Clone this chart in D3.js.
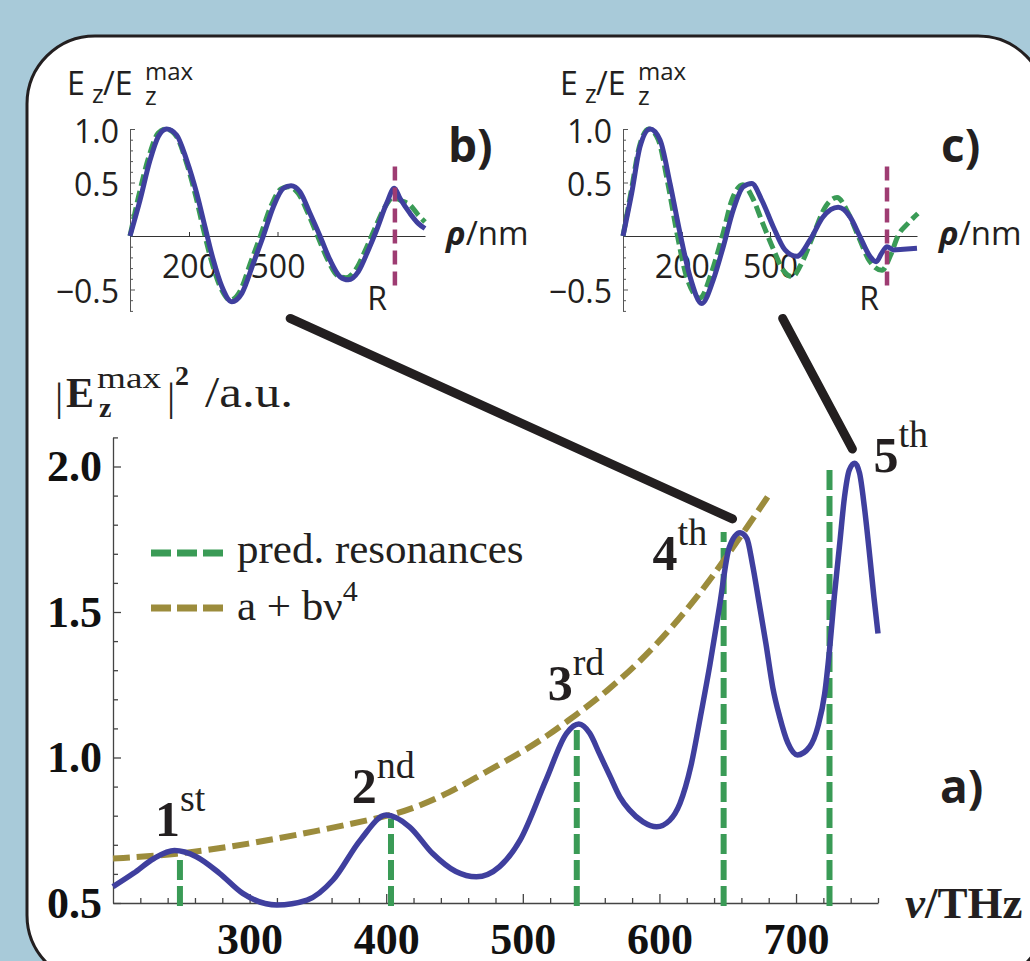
<!DOCTYPE html>
<html>
<head>
<meta charset="utf-8">
<script src="https://cdn.jsdelivr.net/npm/d3@7"></script>
<style>
body { margin: 0; background: #a8cad9; }
svg { display: block; }
</style>
</head>
<body>
<svg></svg>
<script>
// ---- panel a): |Ez max|^2 against frequency ----
var nuField = [200, 215, 230, 245, 261, 278, 295, 320, 342, 361, 381, 400, 417, 434, 451, 466, 483, 498,
  517, 532, 541, 549, 556, 564, 571, 578, 588, 598, 607.5, 615, 623, 630, 637, 644, 651, 659, 664, 668, 673,
  678, 683, 688, 694, 701, 710, 716, 721, 724.5, 728, 732, 735.5, 739, 743, 746.5, 750, 754, 757, 760];
var ampField = [0.556, 0.602, 0.653, 0.680, 0.659, 0.602, 0.533, 0.493, 0.510, 0.579, 0.716, 0.802, 0.762,
  0.670, 0.608, 0.590, 0.625, 0.716, 0.923, 1.083, 1.115, 1.083, 1.014, 0.934, 0.865, 0.820, 0.779, 0.762,
  0.784, 0.842, 0.970, 1.140, 1.320, 1.520, 1.720, 1.772, 1.753, 1.667, 1.530, 1.390, 1.240, 1.140, 1.050,
  1.009, 1.037, 1.106, 1.220, 1.369, 1.552, 1.736, 1.896, 1.988, 2.011, 1.977, 1.862, 1.690, 1.552, 1.426];

// fit a + b nu^4
var nuFit = [200, 245, 300, 350, 400, 420, 447, 469, 497, 517, 540, 561, 586, 610, 634, 649, 664, 681];
var ampFit = [0.653, 0.665, 0.703, 0.748, 0.797, 0.825, 0.880, 0.940, 1.012, 1.071, 1.150, 1.225, 1.330,
  1.450, 1.590, 1.690, 1.790, 1.908];

// predicted resonances
var nuPred = [249, 403.5, 539.5, 647, 724.5];
var predTop = [0.66, 0.79, 1.10, 1.775, 1.995];

var resNum = ["1", "2", "3", "4", "5"];
var resSup = ["st", "nd", "rd", "th", "th"];
var resLabelNu = [230.7, 374.8, 518.2, 595, 756.7];
var resLabelAmp = [0.729, 0.844, 1.198, 1.644, 1.981];

var xTicks = [300, 400, 500, 600, 700];
var yTicks = [0.5, 1.0, 1.5, 2.0];

// ---- insets b) and c): Ez/Ez max against rho ----
var rhoB = [0, 34, 68, 96, 124, 158, 192, 226, 254, 282, 311, 345, 379, 418, 452, 486, 520, 546, 576, 610,
  644, 678, 712, 740, 774, 808, 836, 870, 896, 915, 949, 977, 1000];
var ezB = [0, 0.336, 0.71, 0.93, 1.0, 0.944, 0.71, 0.40, 0.087, -0.22, -0.47, -0.614, -0.536, -0.255, 0,
  0.274, 0.446, 0.47, 0.414, 0.212, 0, -0.224, -0.38, -0.41, -0.333, -0.13, 0.056, 0.305, 0.446, 0.352,
  0.212, 0.118, 0.07];
var rhoBAna = [0, 30, 65, 95, 122, 158, 192, 224, 250, 280, 310, 340, 372, 410, 442, 478, 512, 538, 570, 604,
  636, 670, 704, 732, 766, 800, 830, 864, 893, 920, 949, 976, 1000];
var ezBAna = [0, 0.38, 0.75, 0.96, 1.0, 0.93, 0.68, 0.36, 0.05, -0.27, -0.50, -0.60, -0.52, -0.24, 0, 0.28,
  0.44, 0.46, 0.40, 0.21, 0, -0.22, -0.37, -0.39, -0.31, -0.12, 0.07, 0.27, 0.36, 0.33, 0.29, 0.20, 0.13];

var rhoC = [0, 29.5, 58, 92, 126, 160, 194, 228, 268, 307, 341, 375, 409, 438, 472, 511, 551, 591, 636, 681,
  732, 772, 806, 840, 861, 880, 898, 920, 954, 1000];
var ezC = [0, 0.40, 0.835, 1.0, 0.897, 0.49, 0.025, -0.38, -0.63, -0.41, -0.10, 0.243, 0.46, 0.49, 0.336,
  0.087, -0.13, -0.19, -0.037, 0.18, 0.268, 0.18, -0.006, -0.19, -0.24, -0.16, -0.10, -0.13, -0.124, -0.115];
var rhoCAna = [0, 28, 56, 88, 120, 152, 184, 216, 262, 300, 338, 372, 408, 440, 475, 511, 545, 575, 610, 646,
  690, 728, 765, 800, 840, 881, 910, 935, 970, 1003];
var ezCAna = [0, 0.42, 0.84, 1.0, 0.9, 0.5, 0.02, -0.38, -0.58, -0.35, 0, 0.35, 0.48, 0.36, 0.12, -0.12,
  -0.32, -0.38, -0.24, 0, 0.28, 0.36, 0.22, 0, -0.24, -0.32, -0.18, 0, 0.12, 0.21];

var rhoR = 898;
var insetYTicks = [-0.5, 0.5, 1.0];
var insetXTicks = [200, 500];

// connectors inset -> peak
var connFromRho = [543, 543];
var connFromEz = [-0.77, -0.77];
var connToNu = [653.5, 741.3];
var connToAmp = [1.82, 2.06];

var blue = "#3f3f9e", green = "#3a9b56", olive = "#9c8c3c", purple = "#9e3c72", ink = "#231f20";
var serif = "'Liberation Serif', 'Times New Roman', serif";
var sans = "'Open Sans', 'Noto Sans', sans-serif";

var width = 1030, height = 961;
var svg = d3.select("svg").attr("width", width).attr("height", height);

svg.append("rect").attr("width", width).attr("height", height).attr("fill", "#a8cad9");
svg.append("rect")
    .attr("x", 27).attr("y", 36).attr("width", 1019).attr("height", 947).attr("rx", 68)
    .attr("fill", "#fff").attr("stroke", ink).attr("stroke-width", 3);

// ---------- insets ----------
var yIn = d3.scaleLinear().domain([-0.7, 1.0]).range([310.9, 129]);
var xB = d3.scaleLinear().domain([0, 1000]).range([130, 425]);
var xC = d3.scaleLinear().domain([0, 1000]).range([623, 917]);

function drawInset(xs, rho, ez, rhoAna, ezAna, tag) {
  var g = svg.append("g");
  var ox = xs(0), oy = yIn(0);

  // minor y ticks
  var minor = d3.range(-0.7, 1.001, 0.1).filter(function(v) { return Math.abs(v * 2 - Math.round(v * 2)) > 1e-6; });
  g.append("g").attr("transform", "translate(" + ox + ",0)")
      .call(d3.axisLeft(yIn).tickValues(minor).tickSize(-3).tickSizeOuter(0).tickFormat(""))
      .call(function(a) { a.select(".domain").remove(); a.selectAll("line").attr("stroke", "#555"); });

  var ya = g.append("g").attr("transform", "translate(" + ox + ",0)")
      .call(d3.axisLeft(yIn).tickValues(insetYTicks).tickSize(-5).tickSizeOuter(0).tickPadding(11)
        .tickFormat(function(d) { return d < 0 ? "\u2212" + Math.abs(d).toFixed(1) : d.toFixed(1); }));
  ya.attr("font-family", sans).attr("font-size", 32);
  ya.selectAll("text").attr("fill", ink).attr("dy", "0.42em");
  ya.selectAll("line, path").attr("stroke", "#555");

  var xa = g.append("g").attr("transform", "translate(0," + oy + ")")
      .call(d3.axisBottom(xs).tickValues(insetXTicks).tickSize(-4).tickSizeOuter(0).tickPadding(19));
  xa.attr("font-family", sans).attr("font-size", 32);
  xa.selectAll("text").attr("fill", ink);
  xa.selectAll("line, path").attr("stroke", "#333");

  var line = d3.line().curve(d3.curveMonotoneX);
  g.append("path")
      .attr("d", line(rhoAna.map(function(r, i) { return [xs(r), yIn(ezAna[i])]; })))
      .attr("fill", "none").attr("stroke", green).attr("stroke-width", 5).attr("stroke-dasharray", "12,5");
  g.append("path")
      .attr("d", line(rho.map(function(r, i) { return [xs(r), yIn(ez[i])]; })))
      .attr("fill", "none").attr("stroke", blue).attr("stroke-width", 5);

  g.append("line")
      .attr("x1", xs(rhoR)).attr("x2", xs(rhoR)).attr("y1", yIn(0.65)).attr("y2", yIn(-0.52))
      .attr("stroke", purple).attr("stroke-width", 4.5).attr("stroke-dasharray", "14,7");

  g.append("text").attr("x", xs(rhoR) - 8).attr("y", oy + 74).attr("text-anchor", "end")
      .attr("font-family", sans).attr("font-size", 32).attr("fill", ink).text("R");

  // y label  E z / E z ^max
  var lab = g.append("g").attr("font-family", sans).attr("fill", ink);
  lab.append("text").attr("x", ox - 63).attr("y", 95).attr("font-size", 32).text("E");
  lab.append("text").attr("x", ox - 38).attr("y", 103).attr("font-size", 25).text("z");
  lab.append("text").attr("x", ox - 27).attr("y", 95).attr("font-size", 32).text("/E");
  lab.append("text").attr("x", ox + 15).attr("y", 80).attr("font-size", 24).text("max");
  lab.append("text").attr("x", ox + 15).attr("y", 105).attr("font-size", 25).text("z");

  var rl = g.append("text").attr("x", ox + 316).attr("y", oy + 9)
      .attr("font-family", sans).attr("font-size", 33).attr("fill", ink);
  rl.append("tspan").attr("font-weight", "bold").attr("font-style", "italic").text("\u03c1");
  rl.append("tspan").text("/nm");

  g.append("text").attr("x", ox + 318).attr("y", 162)
      .attr("font-family", sans).attr("font-weight", "bold").attr("font-size", 46).attr("fill", ink)
      .text(tag);
}

drawInset(xB, rhoB, ezB, rhoBAna, ezBAna, "b)");
drawInset(xC, rhoC, ezC, rhoCAna, ezCAna, "c)");

// ---------- main plot ----------
var x = d3.scaleLinear().domain([200, 760]).range([113, 878]);
var y = d3.scaleLinear().domain([0.5, 2.1]).range([903, 437.4]);

// connectors
var insetX = [xB, xC];
connFromRho.forEach(function(r, i) {
  svg.append("line")
      .attr("x1", insetX[i](r)).attr("y1", yIn(connFromEz[i]))
      .attr("x2", x(connToNu[i])).attr("y2", y(connToAmp[i]))
      .attr("stroke", ink).attr("stroke-width", 9).attr("stroke-linecap", "round");
});

var main = svg.append("g");

var yMinor = d3.range(0.6, 2.15, 0.1).filter(function(v) { return Math.abs(v * 2 - Math.round(v * 2)) > 1e-6; });
main.append("g").attr("transform", "translate(113,0)")
    .call(d3.axisLeft(y).tickValues(yMinor).tickSize(-5).tickSizeOuter(0).tickFormat(""))
    .call(function(a) { a.select(".domain").remove(); a.selectAll("line").attr("stroke", "#444").attr("stroke-width", 1.3); });
var yAxisG = main.append("g").attr("transform", "translate(113,0)")
    .call(d3.axisLeft(y).tickValues(yTicks).tickSize(-8).tickSizeOuter(0).tickPadding(11).tickFormat(d3.format(".1f")));
yAxisG.attr("font-family", serif).attr("font-size", 44).attr("font-weight", "bold");
yAxisG.selectAll("text").attr("fill", "#111");
yAxisG.selectAll("line, path").attr("stroke", "#444").attr("stroke-width", 1.3);

var xMinor = d3.range(220, 761, 20).filter(function(v) { return v % 100 !== 0; });
main.append("g").attr("transform", "translate(0,903)")
    .call(d3.axisBottom(x).tickValues(xMinor).tickSize(-5).tickSizeOuter(0).tickFormat(""))
    .call(function(a) { a.select(".domain").remove(); a.selectAll("line").attr("stroke", "#444").attr("stroke-width", 1.3); });
var xAxisG = main.append("g").attr("transform", "translate(0,903)")
    .call(d3.axisBottom(x).tickValues(xTicks).tickSize(-9).tickSizeOuter(0).tickPadding(20));
xAxisG.attr("font-family", serif).attr("font-size", 44).attr("font-weight", "bold");
xAxisG.selectAll("text").attr("fill", "#111");
xAxisG.selectAll("line, path").attr("stroke", "#444").attr("stroke-width", 1.3);

// predicted resonances
main.selectAll(".pred").data(nuPred).enter().append("line")
    .attr("class", "pred")
    .attr("x1", function(d) { return x(d); }).attr("x2", function(d) { return x(d); })
    .attr("y1", y(0.49)).attr("y2", function(d, i) { return y(predTop[i]); })
    .attr("stroke", green).attr("stroke-width", 6).attr("stroke-dasharray", "20,6");

// fit
main.append("path")
    .attr("d", d3.line().curve(d3.curveBasis)(nuFit.map(function(n, i) { return [x(n), y(ampFit[i])]; })))
    .attr("fill", "none").attr("stroke", olive).attr("stroke-width", 6).attr("stroke-dasharray", "17,7");

// computed field
main.append("path")
    .attr("d", d3.line().curve(d3.curveMonotoneX)(nuField.map(function(n, i) { return [x(n), y(ampField[i])]; })))
    .attr("fill", "none").attr("stroke", blue).attr("stroke-width", 5.5);

// resonance labels
resNum.forEach(function(n, i) {
  var t = main.append("text").attr("x", x(resLabelNu[i])).attr("y", y(resLabelAmp[i]))
      .attr("font-family", serif).attr("fill", ink);
  t.append("tspan").attr("font-weight", "bold").attr("font-size", 50).text(n);
  t.append("tspan").attr("font-size", 38).attr("dy", -25).text(resSup[i]);
});

// legend
var legend = main.append("g").attr("font-family", serif).attr("fill", ink);
legend.append("line").attr("x1", 151).attr("x2", 225).attr("y1", 553).attr("y2", 553)
    .attr("stroke", green).attr("stroke-width", 7).attr("stroke-dasharray", "20,6");
legend.append("text").attr("x", 237).attr("y", 563).attr("font-size", 43).text("pred. resonances");
legend.append("line").attr("x1", 151).attr("x2", 225).attr("y1", 608).attr("y2", 608)
    .attr("stroke", olive).attr("stroke-width", 7).attr("stroke-dasharray", "20,6");
var fitLab = legend.append("text").attr("x", 237).attr("y", 620).attr("font-size", 43);
fitLab.append("tspan").text("a + b\u03bd");
fitLab.append("tspan").attr("font-size", 30).attr("dy", -19).text("4");

// y title |E_z^max|^2 /a.u.
var yt = main.append("g").attr("font-family", serif).attr("fill", ink);
yt.append("text").attr("x", 55).attr("y", 410).attr("font-size", 41).text("|");
yt.append("text").attr("x", 66).attr("y", 407).attr("font-size", 42).attr("font-weight", "bold").text("E");
yt.append("text").attr("x", 97).attr("y", 388).attr("font-size", 30)
    .attr("textLength", 64).attr("lengthAdjust", "spacingAndGlyphs").text("max");
yt.append("text").attr("x", 99).attr("y", 417).attr("font-size", 28).attr("font-weight", "bold").text("z");
yt.append("text").attr("x", 167).attr("y", 410).attr("font-size", 41).text("|");
yt.append("text").attr("x", 175).attr("y", 385).attr("font-size", 28).attr("font-weight", "bold").text("2");
yt.append("text").attr("x", 205).attr("y", 407).attr("font-size", 44)
    .attr("textLength", 88).attr("lengthAdjust", "spacingAndGlyphs").text("/a.u.");

// x title
var xt = main.append("text").attr("x", 905).attr("y", 918)
    .attr("font-family", serif).attr("font-size", 45).attr("font-weight", "bold").attr("fill", ink);
xt.append("tspan").attr("font-style", "italic").text("\u03bd");
xt.append("tspan").text("/THz");

main.append("text").attr("x", 940).attr("y", 803)
    .attr("font-family", sans).attr("font-weight", "bold").attr("font-size", 46).attr("fill", ink)
    .text("a)");
</script>
</body>
</html>
